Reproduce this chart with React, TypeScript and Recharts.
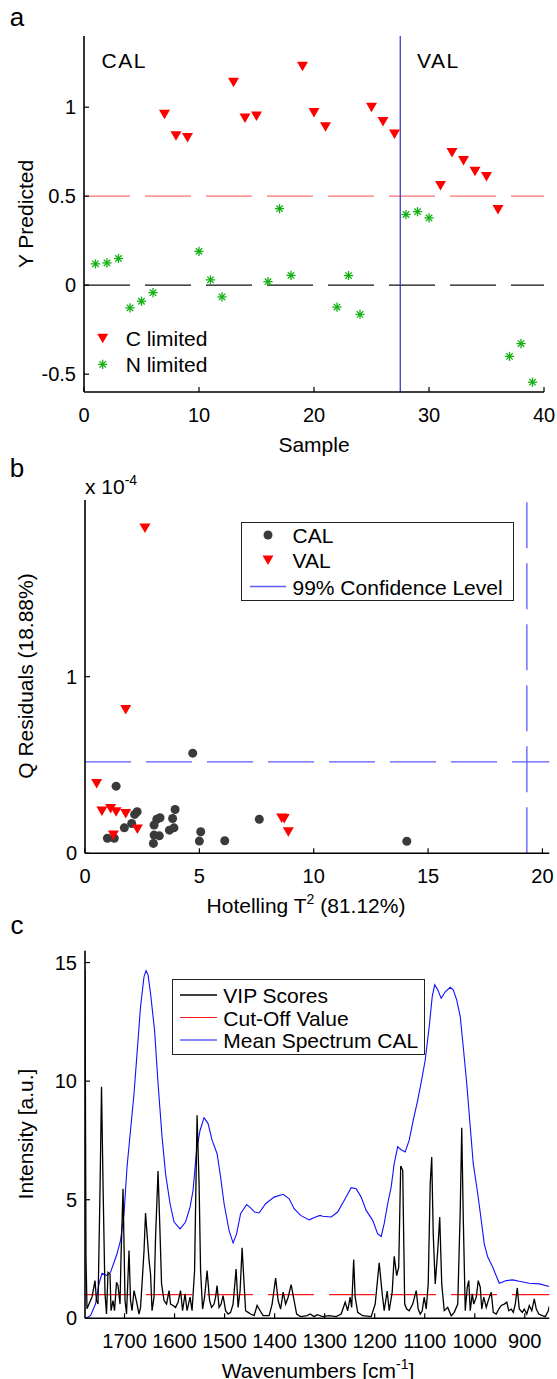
import React from "react";
import { ComposedChart, Scatter, Line, XAxis, YAxis, ReferenceLine } from "recharts";

const FONT = "'Liberation Sans', Arial, Helvetica, sans-serif";

// ---- panel a: predicted class value per sample ----
const cLimitedSample = [7, 8, 9, 13, 14, 15, 19, 20, 21, 25, 26, 27, 31, 32, 33, 34, 35, 36];
const cLimitedPred = [0.96, 0.84, 0.83, 1.14, 0.94, 0.95, 1.23, 0.97, 0.89, 1.0, 0.92, 0.85, 0.56, 0.745, 0.7, 0.64, 0.61, 0.425];
const nLimitedSample = [1, 2, 3, 4, 5, 6, 10, 11, 12, 16, 17, 18, 22, 23, 24, 28, 29, 30, 37, 38, 39];
const nLimitedPred = [0.12, 0.125, 0.15, -0.127, -0.09, -0.042, 0.19, 0.03, -0.066, 0.02, 0.43, 0.055, -0.123, 0.054, -0.164, 0.397, 0.413, 0.378, -0.4, -0.328, -0.545];
const sampleTicks = [0, 10, 20, 30, 40];
const predTicks = [-0.5, 0, 0.5, 1];
const CLASS_THRESHOLD = 0.5;
const CAL_VAL_SPLIT = 27.5;

// ---- panel b: Hotelling T2 vs Q residuals (Q in units of 1e-4) ----
const calT2 = [0.98, 1.28, 1.36, 1.72, 2.04, 2.17, 2.28, 2.99, 3.02, 3.25, 3.02, 3.14, 3.28, 3.69, 3.89, 3.83, 3.94, 4.71, 5.06, 5.0, 6.11, 7.62, 14.07];
const calQ = [0.085, 0.085, 0.38, 0.144, 0.169, 0.22, 0.235, 0.056, 0.103, 0.099, 0.16, 0.193, 0.201, 0.131, 0.144, 0.197, 0.248, 0.567, 0.122, 0.069, 0.071, 0.193, 0.068];
const valT2 = [2.62, 1.78, 0.51, 0.74, 1.12, 1.36, 1.78, 1.24, 2.29, 8.6, 8.71, 8.89];
const valQ = [1.842, 0.814, 0.395, 0.24, 0.254, 0.235, 0.226, 0.103, 0.137, 0.2, 0.197, 0.122];
const t2Ticks = [0, 5, 10, 15, 20];
const qTicks = [0, 1];
const T2_LIMIT = 19.32;
const Q_LIMIT = 0.517;

// ---- panel c: [wavenumber, value] ----
const meanSpectrum: [number, number][] = [
  [1778, 0], [1768, 0.11], [1758, 0.6], [1751, 1.45], [1745, 1.9], [1735, 1.8], [1728, 1.94], [1715, 2.72],
  [1708, 3.28], [1701, 4.41], [1695, 6.38], [1688, 7.93], [1681, 9.48], [1675, 11.17], [1668, 13.14], [1661, 14.41],
  [1657, 14.66], [1653, 14.48], [1648, 13.7], [1640, 12.15], [1633, 9.9], [1625, 7.65], [1618, 6.1], [1609, 4.83],
  [1601, 4.06], [1589, 3.77], [1578, 4.06], [1569, 4.69], [1563, 5.39], [1556, 7.08], [1549, 7.93], [1541, 8.46],
  [1533, 8.21], [1525, 7.51], [1515, 6.94], [1508, 5.96], [1501, 4.83], [1491, 3.7], [1483, 3.18], [1476, 3.56],
  [1468, 4.41], [1456, 4.8], [1448, 4.66], [1440, 4.48], [1431, 4.44], [1418, 4.83], [1401, 5.11], [1383, 5.23],
  [1371, 5.04], [1361, 4.62], [1348, 4.34], [1331, 4.15], [1318, 4.27], [1309, 4.34], [1304, 4.3], [1287, 4.27],
  [1274, 4.48], [1261, 4.97], [1247, 5.51], [1237, 5.46], [1227, 5.11], [1217, 4.55], [1204, 4.13], [1194, 3.56],
  [1187, 3.45], [1181, 3.99], [1174, 4.83], [1167, 5.54], [1161, 6.52], [1154, 7.23], [1147, 7.11], [1139, 7.01],
  [1131, 7.51], [1123, 8.35], [1114, 9.2], [1105, 10.18], [1099, 10.89], [1091, 12.3], [1085, 13.56], [1080, 14.06],
  [1074, 13.85], [1067, 13.49], [1059, 13.77], [1049, 13.96], [1043, 13.85], [1036, 13.42], [1029, 12.72], [1023, 11.45],
  [1016, 9.9], [1009, 8.07], [1003, 6.52], [994, 5.25], [987, 4.13], [981, 3.14], [974, 2.58], [964, 2.15],
  [951, 1.48], [937, 1.59], [924, 1.62], [911, 1.56], [891, 1.48], [871, 1.45], [851, 1.34],
];
const vipScores: [number, number][] = [
  [1779, 14.7], [1777, 2.5], [1775, 0.4], [1771, 0.6], [1765, 0.9], [1759, 1.59], [1756, 0.75], [1753, 0.6],
  [1749, 5.39], [1746, 9.76], [1743, 5.68], [1739, 1.03], [1736, 0.18], [1733, 1.94], [1729, 1.87], [1727, 0.32],
  [1723, 0.75], [1720, 0.32], [1716, 1.52], [1713, 1.38], [1709, 0.6], [1707, 2.58], [1703, 5.46], [1699, 0.75],
  [1696, 0.18], [1691, 2.86], [1688, 0.75], [1685, 0.32], [1681, 1.17], [1678, 0.89], [1675, 0.6], [1671, 0.18],
  [1668, 0.46], [1665, 1.45], [1661, 2.86], [1658, 4.44], [1655, 3.56], [1651, 2.44], [1648, 1.87], [1645, 0.32],
  [1641, 0.89], [1638, 3.42], [1633, 6.21], [1629, 3.56], [1626, 1.45], [1621, 0.75], [1616, 0.6], [1611, 1.17],
  [1608, 0.6], [1603, 0.54], [1598, 0.46], [1593, 0.68], [1588, 1.17], [1584, 0.32], [1579, 1.03], [1575, 0.32],
  [1569, 0.89], [1565, 0.32], [1560, 2.01], [1555, 8.56], [1551, 5.68], [1548, 2.01], [1544, 0.39], [1540, 0.89],
  [1535, 2.01], [1530, 0.75], [1526, 0.46], [1521, 0.6], [1518, 0.89], [1515, 1.38], [1511, 0.46], [1507, 0.6],
  [1503, 0.96], [1498, 0.32], [1493, 0.18], [1488, 0.25], [1483, 0.6], [1477, 2.08], [1473, 0.46], [1469, 1.17],
  [1465, 2.97], [1461, 1.45], [1458, 0.32], [1453, 0.25], [1448, 0.18], [1441, 0.11], [1435, 0.54], [1429, 0.32],
  [1423, 0.11], [1411, 0.11], [1405, 0.6], [1398, 1.7], [1393, 0.75], [1388, 0.39], [1383, 1.1], [1378, 0.6],
  [1373, 0.89], [1367, 1.42], [1361, 0.75], [1356, 0.18], [1348, 0.07], [1335, 0.11], [1329, 0.18], [1321, 0.07],
  [1315, 0.15], [1304, 0.07], [1291, 0.11], [1277, 0.07], [1267, 0.18], [1259, 0.68], [1254, 0.32], [1249, 0.89],
  [1246, 0.46], [1242, 2.48], [1239, 0.89], [1234, 0.25], [1224, 0.11], [1207, 0.07], [1199, 0.6], [1191, 2.34],
  [1185, 1.03], [1181, 0.32], [1175, 1.15], [1171, 0.32], [1165, 1.1], [1161, 2.61], [1156, 1.8], [1152, 2.15],
  [1148, 6.42], [1144, 6.24], [1140, 0.6], [1136, 0.39], [1131, 0.32], [1124, 0.6], [1117, 1.17], [1113, 0.39],
  [1109, 0.18], [1105, 0.32], [1101, 0.89], [1097, 0.39], [1093, 1.45], [1089, 5.68], [1086, 6.8], [1083, 3.56],
  [1079, 1.45], [1074, 2.86], [1070, 4.27], [1066, 1.45], [1061, 0.32], [1054, 0.46], [1047, 0.11], [1041, 0.25],
  [1034, 0.6], [1029, 4.55], [1026, 8.03], [1023, 4.27], [1019, 0.32], [1015, 1.31], [1012, 1.59], [1009, 0.32],
  [1005, 1.03], [1002, 0.6], [997, 0.89], [993, 1.59], [989, 1.31], [986, 0.39], [982, 0.89], [977, 0.46],
  [972, 0.82], [967, 1.1], [963, 0.25], [957, 0.18], [952, 0.39], [947, 0.54], [941, 0.6], [936, 0.68],
  [932, 0.32], [927, 0.39], [923, 0.25], [919, 0.6], [915, 1.28], [911, 0.39], [905, 0.25], [901, 0.39],
  [896, 0.18], [891, 0.54], [886, 0.32], [881, 0.82], [877, 0.39], [872, 0.18], [865, 0.11], [859, 0.07],
  [853, 0.32], [851, 0.5],
];
const wnTicks = [1700, 1600, 1500, 1400, 1300, 1200, 1100, 1000, 900];
const intensityTicks = [0, 5, 10, 15];
const VIP_CUTOFF = 1;

// chart-ready rows
const cData = cLimitedSample.map((x, i) => ({ x, y: cLimitedPred[i] }));
const nData = nLimitedSample.map((x, i) => ({ x, y: nLimitedPred[i] }));
const calData = calT2.map((x, i) => ({ x, y: calQ[i] }));
const valData = valT2.map((x, i) => ({ x, y: valQ[i] }));
const specData = meanSpectrum.map(([w, v]) => ({ w, v }));
const vipData = vipScores.map(([w, v]) => ({ w, v }));

const tickFont = { fill: "#000", fontSize: 20, fontFamily: FONT };
const frame = { stroke: "#000", strokeWidth: 1.6 };
const tickMark = { stroke: "#000", strokeWidth: 1.2 };
const blank = () => "";

function TriangleDown(props: any) {
  const { cx, cy } = props;
  if (cx == null || cy == null) return null;
  return <path d={`M${cx - 5.5},${cy - 4.5}L${cx + 5.5},${cy - 4.5}L${cx},${cy + 5}Z`} fill="#ff0000" />;
}

function Star(props: any) {
  const { cx, cy } = props;
  if (cx == null || cy == null) return null;
  const r = 4.6;
  const d = 3.2;
  return (
    <g stroke="#12b012" strokeWidth={1.3}>
      <line x1={cx - r} y1={cy} x2={cx + r} y2={cy} />
      <line x1={cx} y1={cy - r} x2={cx} y2={cy + r} />
      <line x1={cx - d} y1={cy - d} x2={cx + d} y2={cy + d} />
      <line x1={cx - d} y1={cy + d} x2={cx + d} y2={cy - d} />
    </g>
  );
}

function DarkDot(props: any) {
  const { cx, cy } = props;
  if (cx == null || cy == null) return null;
  return <circle cx={cx} cy={cy} r={4.5} fill="#3a3a3a" />;
}

function Txt({ x, y, children, size = 21, rotate = false, left = false, style = {} }: any) {
  const tx = left ? "0" : "-50%";
  return (
    <div
      style={{
        position: "absolute",
        left: x,
        top: y,
        fontSize: size,
        lineHeight: 1,
        whiteSpace: "nowrap",
        transform: `translate(${tx}, -50%)${rotate ? " rotate(-90deg)" : ""}`,
        ...style,
      }}
    >
      {children}
    </div>
  );
}

const Sup = ({ children }: any) => (
  <span style={{ fontSize: 14, position: "relative", top: -9 }}>{children}</span>
);

export default function App() {
  return (
    <div style={{ position: "absolute", left: 0, top: 0, width: 557, height: 1379, background: "#fff", fontFamily: FONT, color: "#000" }}>
      {/* panel a */}
      <div style={{ position: "absolute", left: 0, top: 0 }}>
        <ComposedChart width={557} height={460} margin={{ top: 36, right: 13, bottom: 28, left: 24 }}>
          <XAxis xAxisId="x" type="number" dataKey="x" domain={[0, 40]} ticks={sampleTicks} interval={0} allowDataOverflow height={40} tickSize={-5} tickMargin={20.5} tick={tickFont} axisLine={frame} tickLine={tickMark} />
          <XAxis xAxisId="xt" orientation="top" type="number" domain={[0, 40]} ticks={sampleTicks} interval={0} allowDataOverflow height={0} tickSize={-5} tickFormatter={blank} axisLine={frame} tickLine={tickMark} />
          <YAxis yAxisId="y" type="number" dataKey="y" domain={[-0.6, 1.4]} ticks={predTicks} interval={0} allowDataOverflow width={60} tickSize={-5} tickMargin={13} tick={tickFont} axisLine={frame} tickLine={tickMark} />
          <YAxis yAxisId="yr" orientation="right" type="number" domain={[-0.6, 1.4]} ticks={predTicks} interval={0} allowDataOverflow width={0} tickSize={-5} tickFormatter={blank} axisLine={frame} tickLine={tickMark} />
          <ReferenceLine xAxisId="x" yAxisId="y" y={CLASS_THRESHOLD} stroke="#ff6f6f" strokeWidth={1.3} strokeDasharray="46 15" />
          <ReferenceLine xAxisId="x" yAxisId="y" y={0} stroke="#111" strokeWidth={1.2} strokeDasharray="46 15" />
          <ReferenceLine xAxisId="x" yAxisId="y" x={CAL_VAL_SPLIT} stroke="#2a2ad8" strokeWidth={1.2} />
          <Scatter xAxisId="x" yAxisId="y" data={cData} shape={TriangleDown} isAnimationActive={false} />
          <Scatter xAxisId="x" yAxisId="y" data={nData} shape={Star} isAnimationActive={false} />
        </ComposedChart>
      </div>
      <Txt x={17} y={17} size={26}>a</Txt>
      <Txt x={101.5} y={60} left style={{ letterSpacing: 1.5 }}>CAL</Txt>
      <Txt x={417} y={60} left style={{ letterSpacing: 1.5 }}>VAL</Txt>
      <Txt x={25} y={214} rotate>Y Predicted</Txt>
      <Txt x={314} y={444}>Sample</Txt>
      <svg style={{ position: "absolute", left: 92, top: 326 }} width={22} height={50}>
        <TriangleDown cx={10.7} cy={12.3} />
        <Star cx={10.7} cy={38.3} />
      </svg>
      <Txt x={125.7} y={338.3} left>C limited</Txt>
      <Txt x={125.7} y={364.3} left>N limited</Txt>

      {/* panel b */}
      <div style={{ position: "absolute", left: 0, top: 470 }}>
        <ComposedChart width={557} height={450} margin={{ top: 30, right: 7.7, bottom: 26.7, left: 25 }}>
          <XAxis xAxisId="x" type="number" dataKey="x" domain={[0, 20.3]} ticks={t2Ticks} interval={0} allowDataOverflow height={40} tickSize={-5} tickMargin={20.5} tick={tickFont} axisLine={frame} tickLine={tickMark} />
          <XAxis xAxisId="xt" orientation="top" type="number" domain={[0, 20.3]} ticks={t2Ticks} interval={0} allowDataOverflow height={0} tickSize={-5} tickFormatter={blank} axisLine={frame} tickLine={tickMark} />
          <YAxis yAxisId="y" type="number" dataKey="y" domain={[0, 2]} ticks={qTicks} interval={0} allowDataOverflow width={60} tickSize={-5} tickMargin={13} tick={tickFont} axisLine={frame} tickLine={tickMark} />
          <YAxis yAxisId="yr" orientation="right" type="number" domain={[0, 2]} ticks={qTicks} interval={0} allowDataOverflow width={0} tickSize={-5} tickFormatter={blank} axisLine={frame} tickLine={tickMark} />
          <ReferenceLine xAxisId="x" yAxisId="y" y={Q_LIMIT} stroke="#5b5bff" strokeWidth={1.3} strokeDasharray="46 15" />
          <ReferenceLine xAxisId="x" yAxisId="y" x={T2_LIMIT} stroke="#5b5bff" strokeWidth={1.3} strokeDasharray="46 15" />
          <Scatter xAxisId="x" yAxisId="y" data={calData} shape={DarkDot} isAnimationActive={false} />
          <Scatter xAxisId="x" yAxisId="y" data={valData} shape={TriangleDown} isAnimationActive={false} />
        </ComposedChart>
      </div>
      <Txt x={17} y={468} size={26}>b</Txt>
      <Txt x={85} y={486} left>x 10<Sup>-4</Sup></Txt>
      <Txt x={25} y={676} rotate>Q Residuals (18.88%)</Txt>
      <Txt x={306} y={905}>Hotelling T<Sup>2</Sup> (81.12%)</Txt>
      <div style={{ position: "absolute", left: 241, top: 522.3, width: 273.3, height: 78.7, boxSizing: "border-box", border: "1.3px solid #222", background: "#fff" }}>
        <svg style={{ position: "absolute", left: 0, top: 0 }} width={52} height={76}>
          <DarkDot cx={26} cy={12} />
          <TriangleDown cx={26} cy={37} />
          <line x1={8} y1={63.5} x2={44} y2={63.5} stroke="#5b5bff" strokeWidth={1.3} />
        </svg>
        <Txt x={50.5} y={12} left>CAL</Txt>
        <Txt x={50.5} y={37} left>VAL</Txt>
        <Txt x={50.5} y={63.5} left>99% Confidence Level</Txt>
      </div>

      {/* panel c */}
      <div style={{ position: "absolute", left: 0, top: 930 }}>
        <ComposedChart width={557} height={449} margin={{ top: 20.7, right: 7.7, bottom: 20.7, left: 25 }}>
          <XAxis xAxisId="x" type="number" dataKey="w" domain={[851, 1779]} reversed ticks={wnTicks} interval={0} allowDataOverflow height={40} tickSize={-5} tickMargin={20.5} tick={tickFont} axisLine={frame} tickLine={tickMark} />
          <XAxis xAxisId="xt" orientation="top" type="number" domain={[851, 1779]} reversed ticks={wnTicks} interval={0} allowDataOverflow height={0} tickSize={-5} tickFormatter={blank} axisLine={frame} tickLine={tickMark} />
          <YAxis yAxisId="y" type="number" domain={[0, 15.5]} ticks={intensityTicks} interval={0} allowDataOverflow width={60} tickSize={-5} tickMargin={13} tick={tickFont} axisLine={frame} tickLine={tickMark} />
          <YAxis yAxisId="yr" orientation="right" type="number" domain={[0, 15.5]} ticks={intensityTicks} interval={0} allowDataOverflow width={0} tickSize={-5} tickFormatter={blank} axisLine={frame} tickLine={tickMark} />
          <ReferenceLine xAxisId="x" yAxisId="y" y={VIP_CUTOFF} stroke="#ff1a1a" strokeWidth={1.1} strokeDasharray="46 15" />
          <Line xAxisId="x" yAxisId="y" data={specData} dataKey="v" type="linear" stroke="#1010ff" strokeWidth={1.1} dot={false} activeDot={false} isAnimationActive={false} />
          <Line xAxisId="x" yAxisId="y" data={vipData} dataKey="v" type="linear" stroke="#000" strokeWidth={1.3} dot={false} activeDot={false} isAnimationActive={false} />
        </ComposedChart>
      </div>
      <Txt x={17} y={925} size={26}>c</Txt>
      <Txt x={25} y={1134} rotate>Intensity [a.u.]</Txt>
      <Txt x={318} y={1370}>Wavenumbers [cm<Sup>-1</Sup>]</Txt>
      <div style={{ position: "absolute", left: 172.3, top: 979, width: 253, height: 76, boxSizing: "border-box", border: "1.3px solid #222", background: "#fff" }}>
        <svg style={{ position: "absolute", left: 0, top: 0 }} width={50} height={74}>
          <line x1={7} y1={15} x2={44} y2={15} stroke="#000" strokeWidth={1.3} />
          <line x1={7} y1={37.5} x2={44} y2={37.5} stroke="#ff1a1a" strokeWidth={1.1} />
          <line x1={7} y1={60} x2={44} y2={60} stroke="#1010ff" strokeWidth={1.1} />
        </svg>
        <Txt x={50} y={15} left>VIP Scores</Txt>
        <Txt x={50} y={37.5} left>Cut-Off Value</Txt>
        <Txt x={50} y={60} left>Mean Spectrum CAL</Txt>
      </div>
    </div>
  );
}
